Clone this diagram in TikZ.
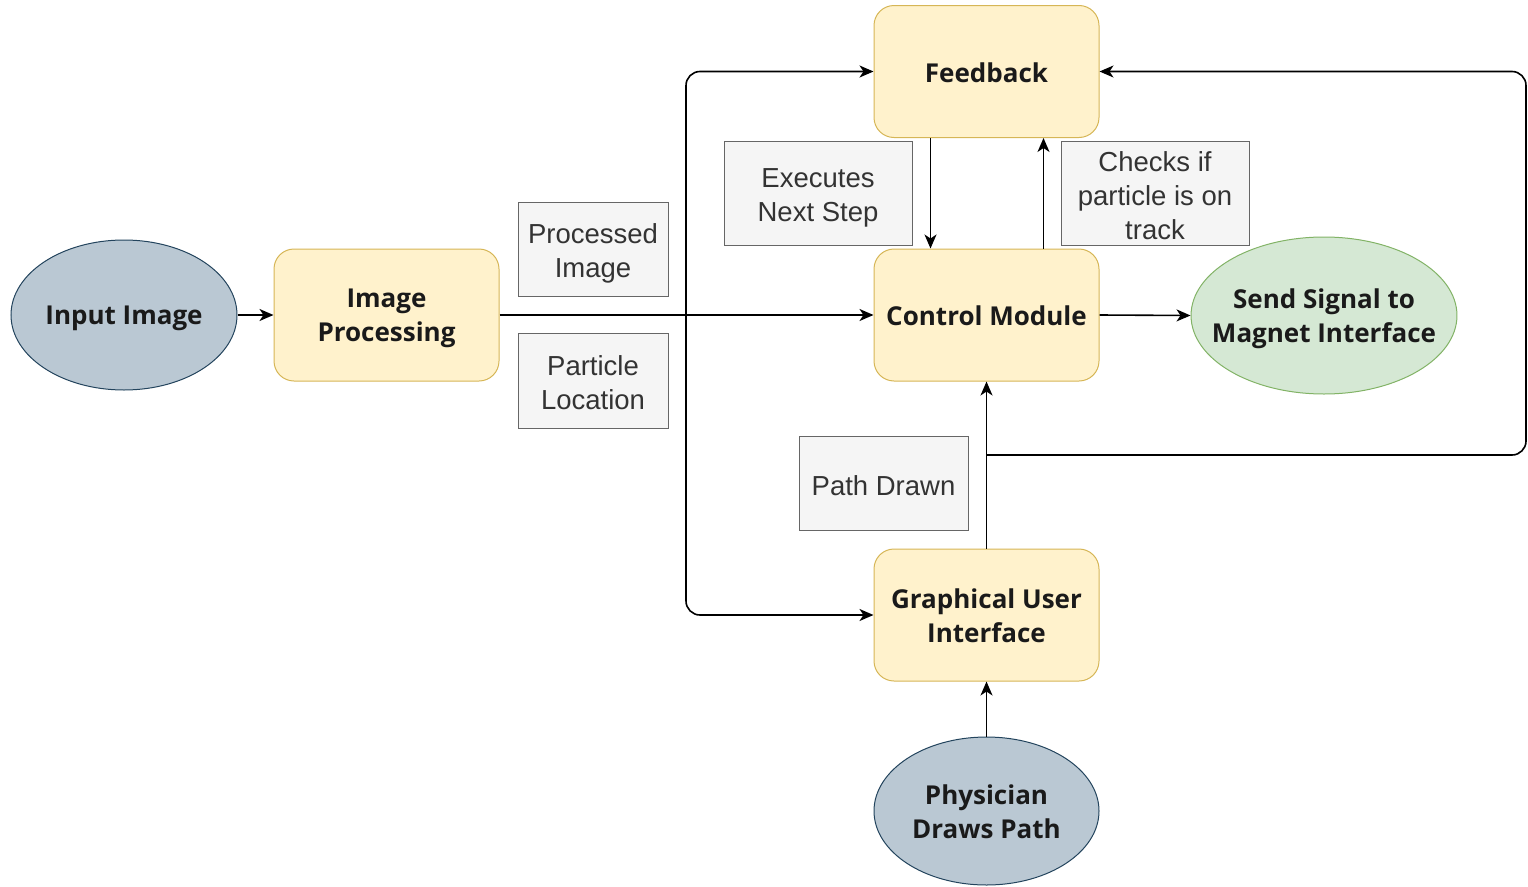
\documentclass[tikz,border=0pt]{standalone}
\usepackage{fontspec}
\setmainfont{Open Sans}
\newfontfamily\lblfont{Liberation Sans}
\usetikzlibrary{arrows.meta,shapes.geometric}
\definecolor{yfill}{HTML}{FFF2CC}
\definecolor{ybord}{HTML}{D6B656}
\definecolor{bfill}{HTML}{BAC8D3}
\definecolor{bbord}{HTML}{23445D}
\definecolor{gfill}{HTML}{D5E8D4}
\definecolor{gbord}{HTML}{82B366}
\definecolor{lfill}{HTML}{F5F5F5}
\definecolor{lbord}{HTML}{666666}
\definecolor{txtc}{HTML}{1A1A1A}
\definecolor{lbltxt}{HTML}{333333}
% struts for even vertical centring of text lines
\newcommand\bs{\rule[-4.5pt]{0pt}{30.5pt}}
\newcommand\ls{\rule[-3.4pt]{0pt}{31.4pt}}
\tikzset{
  proc/.style={rectangle, rounded corners=20pt, draw=ybord, fill=yfill, line width=1pt,
    minimum width=225pt, minimum height=132pt, inner sep=0pt, align=center,
    font=\fontsize{26}{34}\selectfont\bfseries, text=txtc},
  lbl/.style={rectangle, draw=lbord, fill=lfill, line width=1pt, inner sep=0pt, align=center,
    font=\lblfont\fontsize{27.5}{34}\selectfont, text=lbltxt},
  ell/.style={ellipse, line width=1pt, inner sep=0pt, align=center,
    font=\fontsize{26}{34}\selectfont\bfseries, text=txtc},
  bell/.style={ell, draw=bbord, fill=bfill},
  gell/.style={ell, draw=gbord, fill=gfill},
  arr/.style={-{Stealth[length=14pt,width=12pt,inset=4pt]}, line width=1.6pt, black}
}
\begin{document}
\begin{tikzpicture}[x=1pt,y=-1pt]
\useasboundingbox (0,0) rectangle (1528,886);
% nodes
\node[bell, minimum width=226pt, minimum height=150pt] (in) at (124,315) {\bs Input Image};
\node[proc] (ip) at (386.5,315) {\bs Image\\\bs Processing};
\node[lbl, minimum width=150pt, minimum height=94pt] (pi) at (593,249) {\ls Processed\\\ls Image};
\node[lbl, minimum width=150pt, minimum height=95pt] (pl) at (593,380.5) {\ls Particle\\\ls Location};
\node[proc] (fb) at (986.5,71.5) {\bs Feedback};
\node[proc] (cm) at (986.5,315) {\bs Control Module};
\node[lbl, minimum width=188pt, minimum height=104pt] (ex) at (818,193) {\ls Executes\\\ls Next Step};
\node[lbl, minimum width=188pt, minimum height=104pt] (ck) at (1155,193) {\ls Checks if\\\ls particle is on\\\ls track};
\node[gell, inner xsep=-18pt, minimum width=262pt, minimum height=157pt] (ss) at (1324,315.5) {\bs Send Signal to\\\bs Magnet Interface};
\node[lbl, minimum width=169pt, minimum height=94pt] (pd) at (883.5,483) {\ls Path Drawn};
\node[proc] (gui) at (986.5,615) {\bs Graphical User\\\bs Interface};
\node[bell, minimum width=225pt, minimum height=148pt] (ph) at (986.5,811) {\bs Physician\\\bs Draws Path};
% junction coordinates
\coordinate (j1) at (686,315);
\coordinate (j2) at (986.5,455);
\coordinate (rc) at (1526,455);
% connectors
\draw[arr] (in) -- (ip);
\draw[arr] (ip.east) -- (cm.west);
\draw[arr, rounded corners=14pt] (j1) |- (fb.west);
\draw[arr, rounded corners=14pt] (j1) |- (gui.west);
\draw[arr] ([xshift=-56pt]fb.south) -- ([xshift=-56pt]cm.north);
\draw[arr] ([xshift=57pt]cm.north) -- ([xshift=57pt]fb.south);
\draw[arr] (cm.east) -- (ss.west);
\draw[arr] (gui.north) -- (cm.south);
\draw[arr, rounded corners=14pt] (j2) -- (rc) |- (fb.east);
\draw[arr] (ph.north) -- (gui.south);
\end{tikzpicture}
\end{document}
